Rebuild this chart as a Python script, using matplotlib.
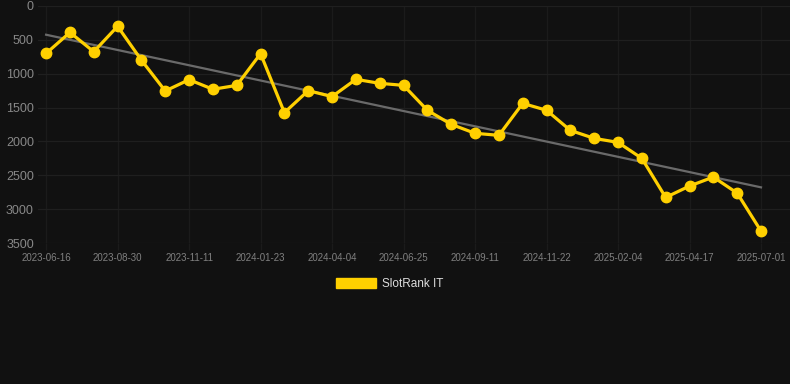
import matplotlib
matplotlib.use("Agg")
import matplotlib.pyplot as plt
import numpy as np
from matplotlib.patches import Patch

plt.rcParams['font.family'] = ['Liberation Sans', 'DejaVu Sans']

tick_labels = ["2023-06-16", "2023-08-30", "2023-11-11", "2024-01-23", "2024-04-04",
               "2024-06-25", "2024-09-11", "2024-11-22", "2025-02-04", "2025-04-17",
               "2025-07-01"]
ranks = [700, 390, 675, 300, 800, 1255, 1088, 1230, 1172, 704,
         1575, 1250, 1338, 1083, 1142, 1172, 1540, 1748, 1880, 1910,
         1438, 1540, 1837, 1955, 2014, 2250, 2827, 2659, 2526, 2763,
         3324]
series_name = "SlotRank IT"

bg = "#111111"
fig = plt.figure(figsize=(7.9, 3.84), dpi=100, facecolor=bg)
ax = fig.add_axes([38/790, (384-243)/384, 752/790, (243-6)/384])
ax.set_facecolor(bg)

x = np.arange(len(ranks))
coef = np.polyfit(x, ranks, 1)
ax.plot([x[0], x[-1]], np.polyval(coef, [x[0], x[-1]]), color="#6a6a6a", lw=1.6, zorder=2)
ax.plot(x, ranks, color="#FFD000", lw=2.3, marker="o", markersize=7.5, zorder=3)

ax.set_ylim(3500, 0)
ax.set_xlim(-0.34, 30 + 29/23.83)
ax.set_yticks(np.arange(0, 3501, 500))
ax.set_xticks(np.arange(0, len(ranks), 3))
ax.set_xticklabels(tick_labels)
ax.grid(True, axis="y", color="#1f1f1f", lw=0.9)
ax.grid(True, axis="x", color="#1b1b1b", lw=0.9)
for s in ax.spines.values():
    s.set_visible(False)
ax.tick_params(axis="y", colors="#888888", labelsize=9, length=0, pad=3)
ax.tick_params(axis="x", colors="#1b1b1b", labelcolor="#808080", labelsize=7, length=5, width=0.9, pad=2)

handle = Patch(facecolor="#FFD000", edgecolor="#FFD000")
leg = fig.legend([handle], [series_name], loc="center", bbox_to_anchor=(390/790, 1 - 284/384),
                 frameon=False, handlelength=3.4, handleheight=0.9, fontsize=8.5,
                 labelcolor="#dddddd", handletextpad=0.5)

fig.savefig("out.png", dpi=100, facecolor=bg)
